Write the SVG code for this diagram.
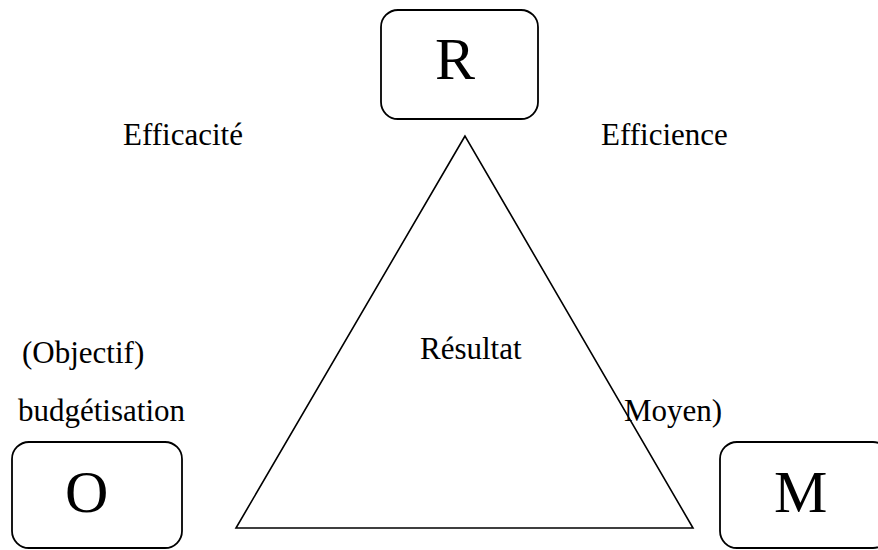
<svg xmlns="http://www.w3.org/2000/svg" width="878" height="550" viewBox="0 0 878 550">
<style>
.box{fill:#fff;stroke:#000;stroke-width:1.8}
.big{font-family:"Liberation Serif","Times New Roman",serif;font-size:60px;fill:#000}
.lbl{font-family:"Liberation Serif","Times New Roman",serif;font-size:31px;fill:#000}
.edge{fill:none;stroke:#000;stroke-width:1.6}
</style>
<rect width="878" height="550" fill="#fff"/>
<g id="connectors">
<polygon class="edge" points="465,136 236,528 693,528"/>
</g>
<g id="node-R">
<rect class="box" x="381" y="10" width="157" height="109" rx="17"/>
<text class="big" x="435" y="79">R</text>
</g>
<g id="node-O">
<rect class="box" x="12" y="442" width="170" height="106" rx="17"/>
<text class="big" x="65" y="512">O</text>
</g>
<g id="node-M">
<rect class="box" x="720" y="442" width="170" height="106" rx="17"/>
<text class="big" x="774" y="512">M</text>
</g>
<g id="labels">
<text class="lbl" x="123" y="145">Efficacité</text>
<text class="lbl" x="601" y="145">Efficience</text>
<text class="lbl" x="420" y="359">Résultat</text>
<text class="lbl" x="22" y="363">(Objectif)</text>
<text class="lbl" x="18" y="421">budgétisation</text>
<text class="lbl" x="624" y="421">Moyen)</text>
</g>
</svg>
